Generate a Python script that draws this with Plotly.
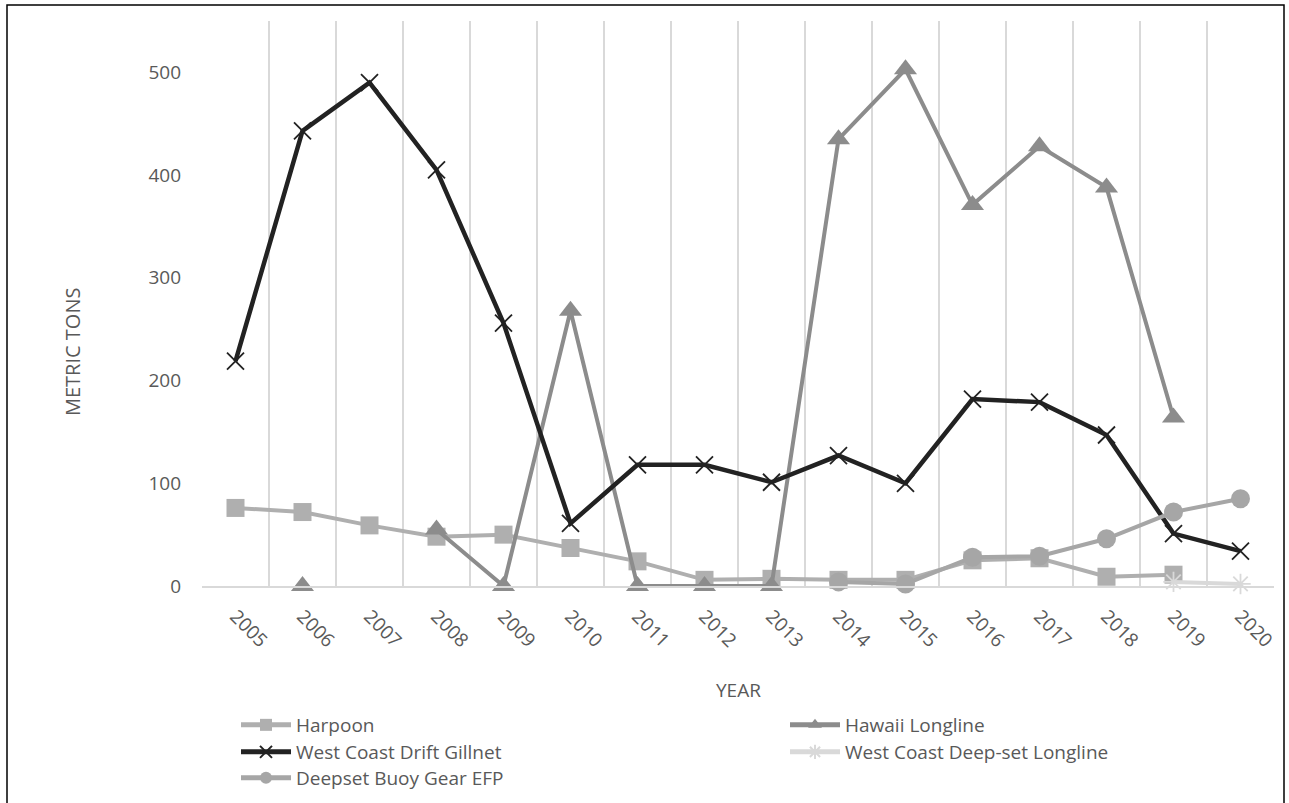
import plotly.graph_objects as go

# Landings by gear type, metric tons
years = [str(y) for y in range(2005, 2021)]

harpoon = [76, 72, 59, 48, 50, 37, 24, 6, 7, 6, 6, 25, 27, 9, 11, None]
hawaii_longline = [None, 0, None, 55, 0, 268, 0, 0, 0, 435, 503, 371, 428, 388, 164, None]
drift_gillnet = [219, 443, 490, 405, 256, 61, 118, 118, 101, 127, 100, 182, 179, 147, 51, 34]
deepset_longline = [None] * 14 + [4, 2]
buoy_gear_efp = [None] * 9 + [4, 2, 28, 29, 46, 72, 85]

W, H = 1289, 803
M_L, M_R, M_T, M_B = 202, 15, 21, 217
PW, PH = W - M_L - M_R, H - M_T - M_B

FONT = "Open Sans"
TXT = "#595959"


def px_x(px):
    return (px - M_L) / PW


def px_y(py):
    return (H - M_B - py) / PH


fig = go.Figure()


def add_series(name, values, color, symbol, size, legend, marker_line=None, width=4):
    marker = dict(symbol=symbol, size=size, color=color)
    if marker_line:
        marker["line"] = dict(color=marker_line, width=1.8)
    else:
        marker["line"] = dict(width=0)
    fig.add_trace(go.Scatter(
        x=years, y=values, name=name, mode="lines+markers",
        line=dict(color=color, width=width), marker=marker,
        legend=legend, connectgaps=False, cliponaxis=False,
    ))


# one legend box per entry so the two-column layout lines up row by row
add_series("Harpoon", harpoon, "#afafaf", "square", 18, "legend")
add_series("Hawaii Longline", hawaii_longline, "#8c8c8c", "triangle-up", 20, "legend2")
add_series("West Coast Drift Gillnet", drift_gillnet, "#222222", "x-thin", 17, "legend3",
           marker_line="#222222", width=4.5)
add_series("West Coast Deep-set Longline", deepset_longline, "#d9d9d9", "asterisk-open", 17,
           "legend4", marker_line="#d9d9d9")
add_series("Deepset Buoy Gear EFP", buoy_gear_efp, "#a6a6a6", "circle", 19, "legend5")

legend_common = dict(
    orientation="v", xanchor="left", yanchor="top",
    font=dict(family=FONT, size=19, color=TXT),
    bgcolor="rgba(0,0,0,0)", itemsizing="constant", itemwidth=50,
)
COL_L, COL_R = 236, 785
ROWS = [706, 733, 759]

fig.update_layout(
    width=W, height=H,
    margin=dict(l=M_L, r=M_R, t=M_T, b=M_B, autoexpand=False),
    paper_bgcolor="white", plot_bgcolor="white",
    font=dict(family=FONT, color=TXT),
    showlegend=True,
    legend=dict(x=px_x(COL_L), y=px_y(ROWS[0]), **legend_common),
    legend2=dict(x=px_x(COL_R), y=px_y(ROWS[0]), **legend_common),
    legend3=dict(x=px_x(COL_L), y=px_y(ROWS[1]), **legend_common),
    legend4=dict(x=px_x(COL_R), y=px_y(ROWS[1]), **legend_common),
    legend5=dict(x=px_x(COL_L), y=px_y(ROWS[2]), **legend_common),
    xaxis=dict(
        type="category", range=[-0.5, 15.5],
        tickson="boundaries", ticks="",
        showgrid=True, gridcolor="#d9d9d9", gridwidth=1.5,
        showline=True, linecolor="#d9d9d9", linewidth=1.5,
        tickangle=45, tickfont=dict(family=FONT, size=19, color=TXT),
        ticklabelstandoff=10,
    ),
    yaxis=dict(
        range=[0, 550], tickvals=[0, 100, 200, 300, 400, 500],
        showgrid=False, zeroline=False, showline=False, ticks="",
        tickfont=dict(family=FONT, size=19, color=TXT),
        ticklabelstandoff=20,
    ),
    annotations=[
        dict(text="METRIC TONS", textangle=-90, xref="paper", yref="paper",
             x=px_x(72), y=px_y(352), xanchor="center", yanchor="middle",
             showarrow=False, font=dict(family=FONT, size=20, color=TXT)),
        dict(text="YEAR", xref="paper", yref="paper",
             x=px_x(738), y=px_y(690), xanchor="center", yanchor="middle",
             showarrow=False, font=dict(family=FONT, size=19, color=TXT)),
    ],
    shapes=[
        dict(type="rect", xref="paper", yref="paper",
             x0=px_x(7), x1=px_x(1284), y0=px_y(820), y1=px_y(5),
             line=dict(color="black", width=1.5), fillcolor="rgba(0,0,0,0)"),
    ],
)

fig.write_html("out.html")
